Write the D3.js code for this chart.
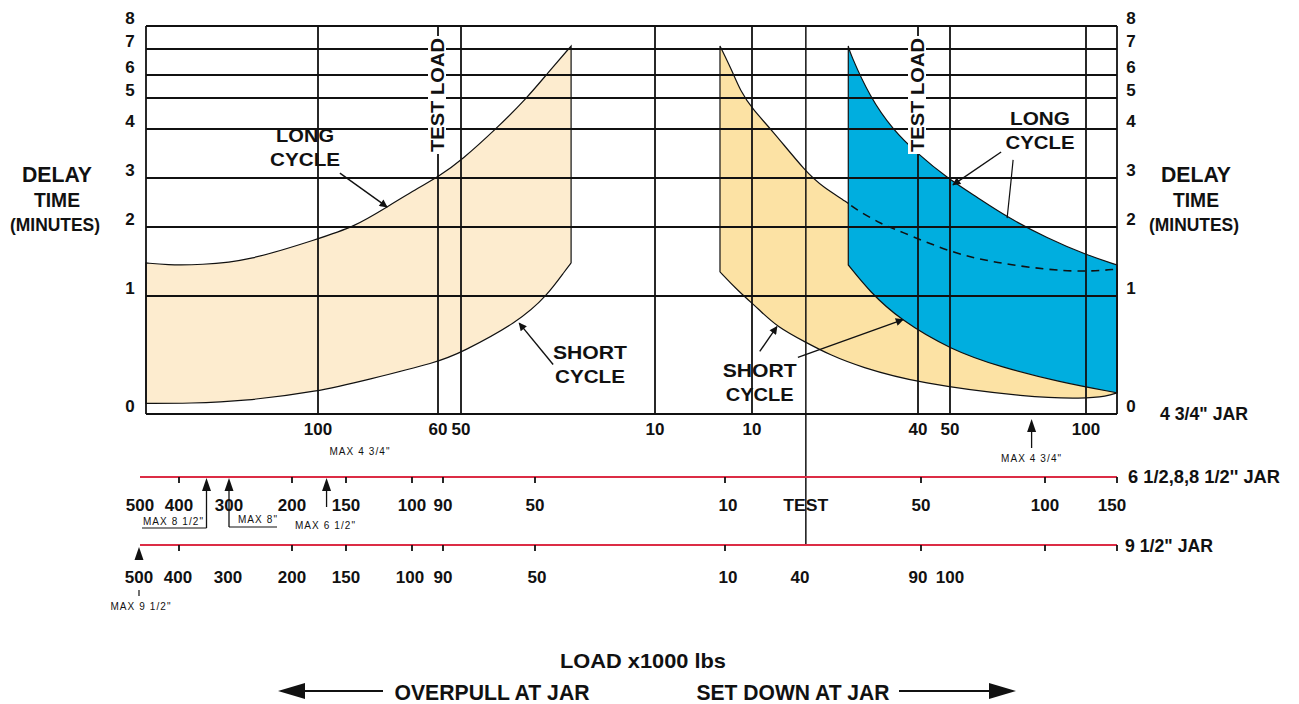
<!DOCTYPE html>
<html>
<head>
<meta charset="utf-8">
<script src="https://cdn.jsdelivr.net/npm/d3@7"></script>
<style>
  html, body { margin: 0; padding: 0; background: #fff; }
  svg text { font-family: "Liberation Sans", Arial, sans-serif; fill: #111; }
  .num { font-size: 17px; font-weight: bold; }
  .big { font-family: "Liberation Sans Narrow", "Liberation Sans", Arial, sans-serif; font-weight: bold; }
  .note { font-size: 10px; letter-spacing: 1.1px; }
</style>
</head>
<body>
<svg id="chart"></svg>
<script>
// ---- data (load in 1000 lbs, overpull negative / set down positive; delay in minutes)
var minuteTicks = [0, 1, 2, 3, 4, 5, 6, 7, 8];
var loadExtent = [-160, 111];                       // 4 3/4" jar scale at the frame edges
var gridLoads = [-100, -60, -50, -10, 10, 40, 50, 100];
var testLoads = [-60, 40];

// 4 3/4" jar, overpull side
var overpullLong = [[-160, 1.48], [-153, 1.45], [-141, 1.45], [-124, 1.51], [-100, 1.83], [-88, 2.0],
  [-77, 2.41], [-66, 2.82], [-60, 3.02], [-49.8, 3.37], [-42.6, 4.03], [-36.4, 5.0], [-32.1, 6.08], [-27.3, 7.13]];
var overpullShort = [[-160, 0.09], [-145, 0.09], [-125.5, 0.11], [-100, 0.19], [-83.7, 0.29], [-60, 0.44],
  [-50, 0.52], [-38.2, 0.78], [-32.3, 1.0], [-28.4, 1.38], [-27.3, 1.48]];

// 4 3/4" jar, set down side
var setdownLong = [[3.4, 7.13], [6.1, 6.08], [7.5, 5.35], [10.2, 4.61], [13.3, 4.03], [19.9, 3.10], [22.8, 2.82],
  [27.4, 2.49], [28.3, 2.39], [33.7, 2.04], [36.2, 1.96], [50.7, 1.62], [67.3, 1.48], [85.7, 1.38], [100.4, 1.35], [111, 1.39]];
var setdownShort = [[3.4, 1.35], [6.9, 1.09], [11.4, 0.88], [14.5, 0.74], [19.6, 0.61], [24.1, 0.50], [29.5, 0.40],
  [40, 0.26], [79.4, 0.14], [98.9, 0.13], [107.5, 0.15], [111, 0.18]];

// larger jars, set down side
var bigLong = [[27.4, 7.13], [27.7, 6.85], [31.3, 5.04], [35.5, 3.98], [39.8, 3.51], [49.1, 3.0], [59.9, 2.61],
  [71.0, 2.2], [85.7, 1.84], [100.4, 1.59], [111, 1.45]];
var bigShort = [[27.4, 1.45], [31.3, 1.06], [36.7, 0.80], [50.7, 0.54], [68.4, 0.40], [90.4, 0.27], [111, 0.18]];

// lower load scales
var jarBDomain = [-500, -400, -300, -200, -150, -100, -90, -50, 10, 50, 100, 150];   // 6 1/2, 8, 8 1/2" jar
var jarBTicks = [-400, -200, -150, -100, -90, -50, 10, 50, 100, 150];
var jarBTest = 26.5;
var jarCDomain = [-500, -400, -300, -200, -150, -100, -90, -50, 10, 40, 90, 100];    // 9 1/2" jar

var maxMain = [{ v: -86, label: "MAX 4 3/4\"" }, { v: 80, label: "MAX 4 3/4\"" }];
var maxB = [{ v: -345, label: "MAX 8 1/2\"" }, { v: -300, label: "MAX 8\"" }, { v: -168, label: "MAX 6 1/2\"" }];
var maxC = [{ v: -500, label: "MAX 9 1/2\"" }];

var notes = [
  { lines: ["LONG", "CYCLE"], at: [-104.5, 3.73], widths: [58, 70], arrows: [[[-92.7, 3.10], [-77, 2.41]]] },
  { lines: ["SHORT", "CYCLE"], at: [-23.4, 0.47], widths: [74, 70], arrows: [[[-31.0, 0.42], [-38.0, 0.77]]] },
  { lines: ["SHORT", "CYCLE"], at: [11.4, 0.31], widths: [74, 68], arrows: [[[11.4, 0.53], [14.5, 0.74]], [[18.3, 0.48], [37.3, 0.80]]] },
  { lines: ["LONG", "CYCLE"], at: [83.1, 4.13], widths: [60, 69], arrows: [[[68.8, 3.53], [51.1, 2.86]]],
    leader: [[73.2, 3.37], [72.4, 2.92], [71.0, 2.18]] }
];

// ---- layout
var width = 1299, height = 704;
var plot = { left: 146, right: 1117, top: 26, bottom: 414 };
var redB = 477, redC = 545;
var ink = "#111", red = "#dc2c45";

var y = d3.scaleLinear().domain(minuteTicks).range([414, 296, 227, 178, 129, 98, 75, 49, 26]);
var x = d3.scaleLinear()
  .domain([loadExtent[0], -100, -60, -50, 10, 40, 50, 100, loadExtent[1]])
  .range([plot.left, 318, 438, 461, 752, 918, 950, 1086, plot.right]);
var xB = d3.scaleLinear().domain(jarBDomain)
  .range([140, 179, 229, 292, 346, 412, 443, 535, 725, 921, 1045, 1117]);
var xC = d3.scaleLinear().domain(jarCDomain)
  .range([139, 178, 228, 292, 346, 410, 443, 537, 728, 800, 918, 950]);

var svg = d3.select("#chart").attr("width", width).attr("height", height);
svg.append("rect").attr("width", width).attr("height", height).attr("fill", "#fff");

var defs = svg.append("defs");
defs.append("marker").attr("id", "head")
  .attr("viewBox", "0 0 10 10").attr("refX", 9).attr("refY", 5)
  .attr("markerUnits", "userSpaceOnUse").attr("markerWidth", 14).attr("markerHeight", 8)
  .attr("orient", "auto")
  .append("path").attr("d", "M0,0L10,5L0,10Z").attr("fill", ink);

var curve = d3.line()
  .x(function (d) { return x(d[0]); })
  .y(function (d) { return y(d[1]); })
  .curve(d3.curveBasis);

function band(upper, lower) {
  return curve(upper) + curve(lower.slice().reverse()).replace(/^M/, "L") + "Z";
}

// bands
svg.append("path").attr("d", band(overpullLong, overpullShort))
  .attr("fill", "#fdeccf").attr("stroke", ink).attr("stroke-width", 1.2);
svg.append("path").attr("d", band(setdownLong, setdownShort))
  .attr("fill", "#fce2a4").attr("stroke", ink).attr("stroke-width", 1.2);
svg.append("path").attr("d", band(bigLong, bigShort))
  .attr("fill", "#00aedf").attr("stroke", ink).attr("stroke-width", 1.2);

defs.append("clipPath").attr("id", "bigClip")
  .append("path").attr("d", band(bigLong, bigShort));

// grid
var grid = svg.append("g").attr("stroke", ink).attr("stroke-width", 1.8);
grid.selectAll("line.h").data(minuteTicks).enter().append("line")
  .attr("x1", plot.left).attr("x2", plot.right)
  .attr("y1", function (d) { return y(d); }).attr("y2", function (d) { return y(d); });
grid.selectAll("line.v").data([loadExtent[0]].concat(gridLoads, [loadExtent[1]])).enter().append("line")
  .attr("x1", function (d) { return x(d); }).attr("x2", function (d) { return x(d); })
  .attr("y1", plot.top).attr("y2", plot.bottom);
grid.append("line")
  .attr("x1", xB(jarBTest)).attr("x2", xB(jarBTest))
  .attr("y1", plot.top).attr("y2", redC).attr("stroke-width", 1.5);

// long cycle of the 4 3/4" jar seen through the blue band
svg.append("path").attr("d", curve(setdownLong))
  .attr("clip-path", "url(#bigClip)")
  .attr("fill", "none").attr("stroke", ink).attr("stroke-width", 1.6)
  .attr("stroke-dasharray", "8,6");

// TEST LOAD labels
testLoads.forEach(function (v) {
  var g = svg.append("g").attr("transform", "translate(" + (x(v) - 1) + ",95) rotate(-90)");
  g.append("rect").attr("x", -59).attr("y", -9).attr("width", 118).attr("height", 18).attr("fill", "#fff");
  g.append("text").attr("class", "big").attr("text-anchor", "middle").attr("dy", "0.36em")
    .style("font-size", "19px").attr("textLength", 114).attr("lengthAdjust", "spacingAndGlyphs")
    .text("TEST LOAD");
});

// y axis labels, both sides
[plot.left - 16, plot.right + 14].forEach(function (px) {
  svg.selectAll(null).data(minuteTicks).enter().append("text")
    .attr("class", "num").attr("text-anchor", "middle")
    .attr("x", px).attr("y", function (d) { return y(d) - 2; })
    .text(function (d) { return d; });
});

function bigText(tx, ty, str, size, len, anchor) {
  return svg.append("text").attr("class", "big")
    .attr("x", tx).attr("y", ty).attr("text-anchor", anchor || "middle")
    .style("font-size", size + "px")
    .attr("textLength", len).attr("lengthAdjust", "spacingAndGlyphs")
    .text(str);
}

[57, 1196].forEach(function (cx) {
  bigText(cx, 182, "DELAY", 22, 70);
  bigText(cx, 207, "TIME", 21, 46);
  bigText(cx - 2, 231, "(MINUTES)", 19, 90);
});

// main x axis (4 3/4" jar)
svg.selectAll(null).data(gridLoads).enter().append("text")
  .attr("class", "num").attr("text-anchor", "middle")
  .attr("x", function (d) { return x(d); }).attr("y", 435)
  .text(function (d) { return Math.abs(d); });
bigText(1160, 420, "4 3/4\" JAR", 18, 88, "start");

// red load lines for the larger jars
[redB, redC].forEach(function (ly) {
  svg.append("line").attr("x1", xB(jarBDomain[0])).attr("x2", xB(150))
    .attr("y1", ly).attr("y2", ly).attr("stroke", red).attr("stroke-width", 2.2);
  svg.selectAll(null).data(jarBTicks).enter().append("line")
    .attr("x1", function (d) { return xB(d); }).attr("x2", function (d) { return xB(d); })
    .attr("y1", ly).attr("y2", ly + 6).attr("stroke", ink).attr("stroke-width", 1.8);
});

svg.selectAll(null).data(jarBDomain).enter().append("text")
  .attr("class", "num").attr("text-anchor", "middle")
  .attr("x", function (d) { return xB(d); }).attr("y", 511)
  .attr("dx", function (d) { return d === 150 ? -5 : (d === 10 ? 3 : 0); })
  .text(function (d) { return Math.abs(d); });
bigText(xB(jarBTest), 511, "TEST", 17, 45);
bigText(1128, 483, "6 1/2,8,8 1/2'' JAR", 18, 152, "start");

svg.selectAll(null).data(jarCDomain).enter().append("text")
  .attr("class", "num").attr("text-anchor", "middle")
  .attr("x", function (d) { return xC(d); }).attr("y", 583)
  .text(function (d) { return Math.abs(d); });
bigText(1125, 552, "9 1/2\" JAR", 18, 88, "start");

// MAX markers
function upArrow(cx, tipY, stemEnd) {
  var p = d3.path();
  p.moveTo(cx, tipY);
  p.lineTo(cx + 4.5, tipY + 13);
  p.lineTo(cx - 4.5, tipY + 13);
  p.closePath();
  svg.append("path").attr("d", p.toString()).attr("fill", ink);
  if (stemEnd) {
    svg.append("line").attr("x1", cx).attr("x2", cx).attr("y1", tipY + 12).attr("y2", stemEnd)
      .attr("stroke", ink).attr("stroke-width", 1.3);
  }
}
function note(tx, ty, str) {
  svg.append("text").attr("class", "note").attr("text-anchor", "middle")
    .attr("x", tx).attr("y", ty).text(str);
}
function rule(pts) {
  svg.append("path").attr("d", d3.line()(pts)).attr("fill", "none")
    .attr("stroke", ink).attr("stroke-width", 1.2);
}

note(x(maxMain[0].v), 455, maxMain[0].label);
upArrow(x(maxMain[1].v), 419, 448);
note(x(maxMain[1].v), 462, maxMain[1].label);

// 8 1/2"
upArrow(xB(maxB[0].v), redB + 1, 528);
rule([[xB(maxB[0].v), 528], [xB(jarBDomain[0]) + 2, 528]]);
note(xB(maxB[0].v) - 33, 525, maxB[0].label);
// 8"
upArrow(xB(maxB[1].v), redB + 1, 527);
rule([[xB(maxB[1].v), 527], [xB(maxB[1].v) + 48, 527]]);
note(xB(maxB[1].v) + 29, 523, maxB[1].label);
// 6 1/2"
upArrow(xB(maxB[2].v), redB + 1, 507);
note(xB(maxB[2].v) - 1, 529, maxB[2].label);
// 9 1/2"
upArrow(xC(maxC[0].v), redC + 2, null);
rule([[xC(maxC[0].v), 590], [xC(maxC[0].v), 596]]);
note(xC(maxC[0].v) + 2, 610, maxC[0].label);

// curve call-outs
notes.forEach(function (n) {
  var cx = x(n.at[0]), cy = y(n.at[1]);
  n.lines.forEach(function (str, i) {
    svg.append("text").attr("x", cx).attr("y", cy + i * 24)
      .attr("text-anchor", "middle").style("font-size", "19px").style("font-weight", "bold")
      .attr("textLength", n.widths[i]).attr("lengthAdjust", "spacingAndGlyphs")
      .text(str);
  });
  n.arrows.forEach(function (a) {
    svg.append("line")
      .attr("x1", x(a[0][0])).attr("y1", y(a[0][1]))
      .attr("x2", x(a[1][0])).attr("y2", y(a[1][1]))
      .attr("stroke", ink).attr("stroke-width", 1.4)
      .attr("marker-end", "url(#head)");
  });
  if (n.leader) {
    rule(n.leader.map(function (d) { return [x(d[0]), y(d[1])]; }));
  }
});

// bottom titles
bigText(643, 668, "LOAD  x1000 lbs", 21, 166);
bigText(492, 700, "OVERPULL AT JAR", 22, 195);
bigText(793, 700, "SET DOWN AT JAR", 22, 193);

function bigArrow(from, to, ay) {
  var dir = to > from ? 1 : -1;
  svg.append("line").attr("x1", from).attr("x2", to - dir * 24).attr("y1", ay).attr("y2", ay)
    .attr("stroke", ink).attr("stroke-width", 2);
  var p = d3.path();
  p.moveTo(to, ay);
  p.lineTo(to - dir * 27, ay - 8);
  p.lineTo(to - dir * 27, ay + 8);
  p.closePath();
  svg.append("path").attr("d", p.toString()).attr("fill", ink);
}
bigArrow(383, 278, 691);
bigArrow(899, 1016, 691);
</script>
</body>
</html>
